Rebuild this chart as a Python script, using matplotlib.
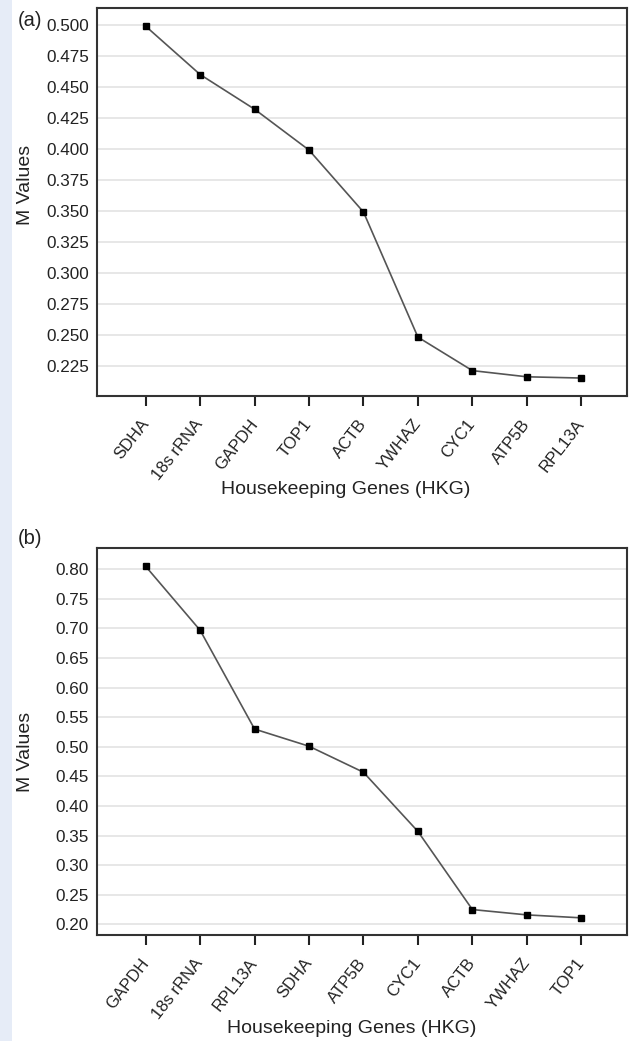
import matplotlib
matplotlib.use('Agg')
import matplotlib.pyplot as plt
import matplotlib.transforms as mtransforms
from matplotlib.patches import Rectangle

plt.rcParams['font.family'] = ['Liberation Sans', 'DejaVu Sans']

# panel (a)
genes_a = ['SDHA', '18s rRNA', 'GAPDH', 'TOP1', 'ACTB', 'YWHAZ', 'CYC1', 'ATP5B', 'RPL13A']
m_a = [0.499, 0.460, 0.432, 0.399, 0.349, 0.248, 0.221, 0.216, 0.215]
yticks_a = [0.225, 0.250, 0.275, 0.300, 0.325, 0.350, 0.375, 0.400, 0.425, 0.450, 0.475, 0.500]

# panel (b)
genes_b = ['GAPDH', '18s rRNA', 'RPL13A', 'SDHA', 'ATP5B', 'CYC1', 'ACTB', 'YWHAZ', 'TOP1']
m_b = [0.805, 0.697, 0.530, 0.501, 0.457, 0.357, 0.225, 0.216, 0.211]
yticks_b = [0.20, 0.25, 0.30, 0.35, 0.40, 0.45, 0.50, 0.55, 0.60, 0.65, 0.70, 0.75, 0.80]

fig = plt.figure(figsize=(6.32, 10.41), dpi=100)
fig.patches.append(Rectangle((0, 0), 12 / 632, 1, transform=fig.transFigure,
                             facecolor='#e6ecf7', edgecolor='none', zorder=0))


def draw(ax, genes, vals, yticks, ylim, fmt, tag, tag_y):
    x = list(range(len(genes)))
    ax.plot(x, vals, color='#555555', lw=1.2, marker='s', ms=4.5,
            mfc='black', mec='black', zorder=3)
    ax.set_xlim(-0.894, 8.84)
    ax.set_ylim(*ylim)
    ax.set_yticks(yticks)
    ax.set_yticklabels([fmt % v for v in yticks], fontsize=12.3, color='#222222')
    ax.set_xticks(x)
    ax.set_xticklabels(genes, rotation=52, ha='right', va='center',
                       rotation_mode='anchor', fontsize=12, color='#222222')
    shift = mtransforms.ScaledTranslation(3 / 100, 0, fig.dpi_scale_trans)
    for lab in ax.get_xticklabels():
        lab.set_transform(lab.get_transform() + shift)
    ax.tick_params(axis='y', length=0, pad=6)
    ax.tick_params(axis='x', length=7.2, width=1.5, pad=11, color='#222222')
    ax.grid(axis='y', color='#e0e0e0', lw=1.1)
    ax.set_axisbelow(True)
    for s in ax.spines.values():
        s.set_linewidth(1.5)
        s.set_color('#333333')
    ax.set_ylabel('M Values', fontsize=14, color='#222222', va='center')
    ax.set_xlabel('Housekeeping Genes (HKG)', fontsize=14, color='#222222', va='center')
    fig.text(18 / 632, tag_y, tag, fontsize=14.5, va='center', ha='left', color='#222222')


ax1 = fig.add_axes([97 / 632, 1 - 396 / 1041, 530 / 632, 388 / 1041])
draw(ax1, genes_a, m_a, yticks_a, (0.2005, 0.5137), '%.3f', '(a)', 1 - 21 / 1041)
ax1.yaxis.set_label_coords(-0.134, 0.544)
ax1.xaxis.set_label_coords(0.47, -0.242)

ax2 = fig.add_axes([97 / 632, 1 - 935 / 1041, 530 / 632, 386.7 / 1041])
draw(ax2, genes_b, m_b, yticks_b, (0.182, 0.8355), '%.2f', '(b)', 1 - 538 / 1041)
ax2.yaxis.set_label_coords(-0.134, 0.473)
ax2.xaxis.set_label_coords(0.481, -0.2405)

fig.savefig('out.png', dpi=100)
